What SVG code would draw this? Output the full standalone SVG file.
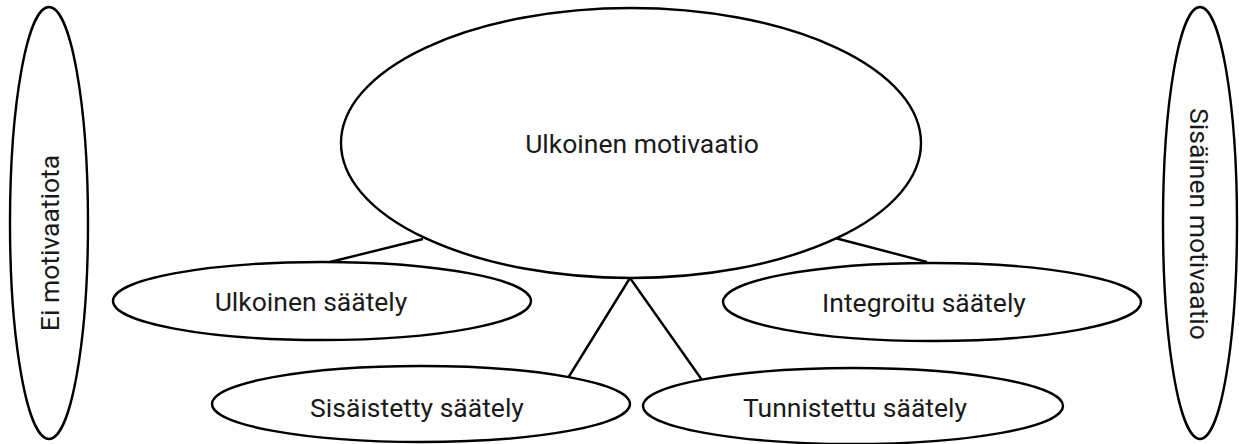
<svg xmlns="http://www.w3.org/2000/svg" width="1239" height="444" viewBox="0 0 1239 444">
<style>
.n{fill:#fff;stroke:#000;stroke-width:2.4}
.c line{stroke:#000;stroke-width:2.4}
text{font-family:Roboto,"Liberation Sans",sans-serif;font-size:26.5px;fill:#1a1a1a;text-anchor:middle}
</style>
<rect width="1239" height="444" fill="#fff"/>
<g id="ei-motivaatiota"><ellipse class="n" cx="49" cy="223" rx="39" ry="216"/><text transform="translate(59,243) rotate(-90)">Ei motivaatiota</text></g>
<g id="sisainen-motivaatio"><ellipse class="n" cx="1200" cy="223" rx="37" ry="216"/><text transform="translate(1190,224) rotate(90)">Sisäinen motivaatio</text></g>
<g class="c" id="connectors">
<line x1="330" y1="262" x2="423" y2="239"/>
<line x1="835" y1="238" x2="927" y2="262"/>
<line x1="630" y1="278" x2="568" y2="378"/>
<line x1="630" y1="278" x2="702" y2="380"/>
</g>
<g id="ulkoinen-motivaatio"><ellipse class="n" cx="631" cy="143" rx="290" ry="135"/><text x="642" y="153">Ulkoinen motivaatio</text></g>
<g id="ulkoinen-saately"><ellipse class="n" cx="322" cy="301" rx="209" ry="39"/><text x="311" y="311">Ulkoinen säätely</text></g>
<g id="integroitu-saately"><ellipse class="n" cx="932" cy="302" rx="209" ry="39"/><text x="924" y="312">Integroitu säätely</text></g>
<g id="sisaistetty-saately"><ellipse class="n" cx="421" cy="404" rx="209" ry="38"/><text x="417" y="417">Sisäistetty säätely</text></g>
<g id="tunnistettu-saately"><ellipse class="n" cx="853" cy="406" rx="210" ry="38"/><text x="855" y="417">Tunnistettu säätely</text></g>
</svg>
